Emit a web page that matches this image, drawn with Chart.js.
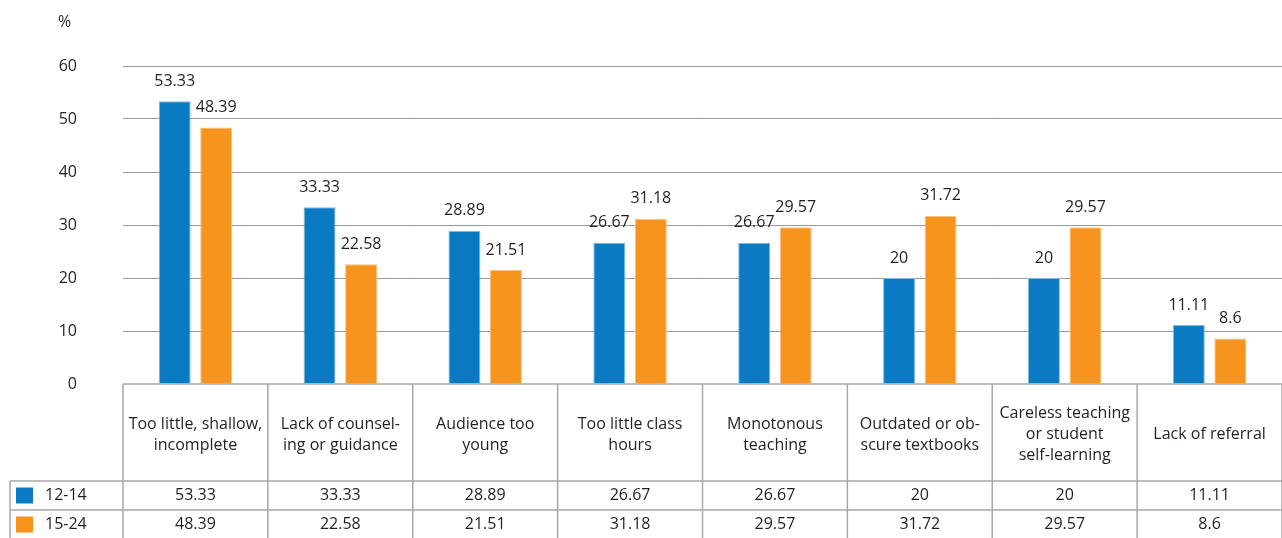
<!DOCTYPE html>
<html>
<head>
<meta charset="utf-8">
<script src="https://cdn.jsdelivr.net/npm/chart.js@4.4.1/dist/chart.umd.min.js"></script>
<style>
  html, body { margin: 0; padding: 0; background: #fff; }
  #wrap { width: 1282px; height: 538px; }
</style>
</head>
<body>
<div id="wrap"><canvas id="myChart"></canvas></div>
<script>
const categories = [
  ['Too little, shallow,', 'incomplete'],
  ['Lack of counsel-', 'ing or guidance'],
  ['Audience too', 'young'],
  ['Too little class', 'hours'],
  ['Monotonous', 'teaching'],
  ['Outdated or ob-', 'scure textbooks'],
  ['Careless teaching', 'or student', 'self-learning'],
  ['Lack of referral']
];
const seriesNames = ['12-14', '15-24'];
const ages12to14 = [53.33, 33.33, 28.89, 26.67, 26.67, 20, 20, 11.11];
const ages15to24 = [48.39, 22.58, 21.51, 31.18, 29.57, 31.72, 29.57, 8.6];
const yTicks = [0, 10, 20, 30, 40, 50, 60];

const BLUE = '#0a7bc2';
const ORANGE = '#f7941e';
const FONT = '16px "Open Sans", sans-serif';
const TEXT = '#231f20';

// value labels above the bars
const valueLabels = {
  id: 'valueLabels',
  afterDatasetsDraw(chart) {
    const ctx = chart.ctx;
    ctx.save();
    ctx.font = FONT;
    ctx.fillStyle = TEXT;
    ctx.textAlign = 'center';
    ctx.textBaseline = 'middle';
    chart.data.datasets.forEach((ds, di) => {
      chart.getDatasetMeta(di).data.forEach((bar, i) => {
        ctx.fillText(String(ds.data[i]), bar.x, bar.y - 20);
      });
    });
    ctx.restore();
  }
};

// data table under the plot + the "%" unit
const dataTable = {
  id: 'dataTable',
  afterDraw(chart) {
    const ctx = chart.ctx;
    const area = chart.chartArea;
    const x = chart.scales.x;
    const n = categories.length;
    const colW = (area.right - area.left) / n;
    const top = area.bottom;
    const headBottom = top + 97;
    const rowH = 29;
    const tableLeft = 10;

    ctx.save();
    ctx.strokeStyle = '#a8a8a8';
    ctx.lineWidth = 1.5;
    ctx.beginPath();
    ctx.moveTo(area.left, top); ctx.lineTo(area.right, top);
    for (let r = 0; r < 3; r++) {
      const yy = headBottom + r * rowH;
      ctx.moveTo(tableLeft, yy); ctx.lineTo(area.right, yy);
    }
    ctx.moveTo(tableLeft, headBottom); ctx.lineTo(tableLeft, chart.height);
    for (let i = 0; i <= n; i++) {
      const xx = area.left + i * colW;
      ctx.moveTo(xx, top); ctx.lineTo(xx, chart.height);
    }
    ctx.stroke();

    ctx.font = FONT;
    ctx.fillStyle = TEXT;
    ctx.textAlign = 'center';
    ctx.textBaseline = 'middle';
    const lh = 21;
    categories.forEach((lines, i) => {
      const cx = x.getPixelForValue(i);
      const cy = (top + headBottom) / 2 + 2;
      lines.forEach((ln, k) => {
        ctx.fillText(ln, cx, cy + (k - (lines.length - 1) / 2) * lh);
      });
    });

    const rows = [ages12to14, ages15to24];
    const colors = [BLUE, ORANGE];
    rows.forEach((vals, r) => {
      const cy = headBottom + r * rowH + rowH / 2;
      ctx.fillStyle = colors[r];
      ctx.fillRect(16, cy - 8, 17, 16);
      ctx.fillStyle = TEXT;
      ctx.textAlign = 'left';
      ctx.fillText(seriesNames[r], 45, cy);
      ctx.textAlign = 'center';
      vals.forEach((v, i) => ctx.fillText(String(v), x.getPixelForValue(i), cy));
    });

    ctx.textAlign = 'left';
    ctx.fillText('%', 58, 22);
    ctx.restore();
  }
};

const ctx = document.getElementById('myChart').getContext('2d');
new Chart(ctx, {
  type: 'bar',
  data: {
    labels: categories,
    datasets: [
      { label: seriesNames[0], data: ages12to14, backgroundColor: BLUE, borderColor: '#7fb8e0', borderWidth: 1 },
      { label: seriesNames[1], data: ages15to24, backgroundColor: ORANGE, borderColor: '#fbc27f', borderWidth: 1 }
    ]
  },
  options: {
    responsive: true,
    maintainAspectRatio: false,
    animation: false,
    categoryPercentage: 0.573,
    barPercentage: 0.77,
    layout: { padding: { top: 66, bottom: 154, left: 0, right: 0 } },
    plugins: { legend: { display: false }, tooltip: { enabled: false } },
    scales: {
      x: { display: false },
      y: {
        min: 0,
        max: 60,
        afterFit(scale) { scale.width = 123; },
        afterBuildTicks(scale) { scale.ticks = yTicks.map(v => ({ value: v })); },
        border: { display: false },
        grid: {
          drawTicks: false,
          color: ctx => ctx.tick && ctx.tick.value === 0 ? 'rgba(0,0,0,0)' : '#999',
          lineWidth: 1
        },
        ticks: { padding: 46, color: TEXT, font: { family: '"Open Sans", sans-serif', size: 16 } }
      }
    }
  },
  plugins: [valueLabels, dataTable]
});
</script>
</body>
</html>
